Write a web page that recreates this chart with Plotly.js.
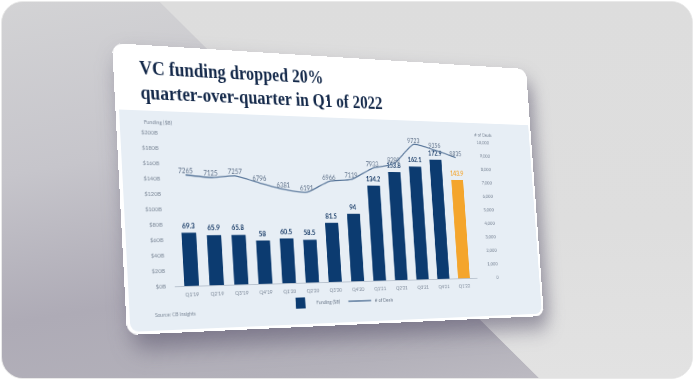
<!DOCTYPE html>
<html>
<head>
<meta charset="utf-8">
<script src="https://cdn.plot.ly/plotly-3.0.1.min.js"></script>
<style>
  html, body { margin:0; padding:0; background:#ffffff; }
  #frame { position:absolute; left:1px; top:1px; width:690px; height:376px; border-radius:22px; overflow:hidden;
           background:#dcdcdc; border:1px solid #e9e9e9; }
  #bgleft { position:absolute; left:0; top:0; width:690px; height:376px;
            clip-path: polygon(0 0, 158px 0, 537px 376px, 0 376px);
            background: linear-gradient(170deg, #d3d3d5 0%, #c6c5cb 35%, #aeabb6 65%, #b3b1ba 85%, #c2c0c7 100%); }
  #bgright { position:absolute; left:0; top:0; width:690px; height:376px;
            clip-path: polygon(158px 0, 690px 0, 690px 376px, 537px 376px);
            background: linear-gradient(180deg, #dddddd 0%, #dedede 60%, #e2e2e2 100%); }
  .sheet { position:absolute; left:0; top:0; width:540px; height:300px; transform-origin:0 0; }
  #shadow { background: rgba(80,74,100,0.55); border-radius:14px; filter: blur(12px); }
  #card { background:#ffffff; border-radius:12px; overflow:hidden; }
  #panel { position:absolute; left:4px; top:69px; width:533px; height:228px; background:#e7eef5; border-radius:0 0 9px 9px; }
  #chart { position:absolute; left:0; top:0; width:540px; height:300px; }
</style>
</head>
<body>
<div id="frame">
  <div id="bgleft"></div>
  <div id="bgright"></div>
</div>
<div id="shadow" class="sheet"></div>
<div id="card" class="sheet">
  <div id="panel"></div>
  <div id="chart"></div>
</div>
<script>
// ---- data ----
const quarters = ["Q1'19","Q2'19","Q3'19","Q4'19","Q1'20","Q2'20","Q3'20","Q4'20","Q1'21","Q2'21","Q3'21","Q4'21","Q1'22"];
const funding = [69.3, 65.9, 65.8, 58, 60.5, 58.5, 81.5, 94, 134.2, 153.8, 162.1, 172.9, 143.9];
const deals = [7265, 7125, 7257, 6796, 6381, 6191, 6966, 7119, 7933, 8280, 9723, 9356, 8835];
const seriesNames = ["Funding ($B)", "# of Deals"];
const titleText = "VC funding dropped 20%<br>quarter-over-quarter in Q1 of 2022";
const sourceText = "Source: CB Insights";

// ---- perspective (card corners on screen) ----
const W = 540, H = 300;
function homography(p0, p1, p2, p3) {
  const [x0,y0]=p0,[x1,y1]=p1,[x2,y2]=p2,[x3,y3]=p3;
  const dx1=x1-x2, dx2=x3-x2, dx3=x0-x1+x2-x3;
  const dy1=y1-y2, dy2=y3-y2, dy3=y0-y1+y2-y3;
  const det=dx1*dy2-dx2*dy1;
  const g=(dx3*dy2-dx2*dy3)/det, h=(dx1*dy3-dx3*dy1)/det;
  const a=x1-x0+g*x1, b=x3-x0+h*x3, c=x0;
  const d=y1-y0+g*y1, e=y3-y0+h*y3, f=y0;
  return `matrix3d(${a/W},${d/W},0,${g/W},${b/H},${e/H},0,${h/H},0,0,1,0,${c},${f},0,1)`;
}
const M = homography([112,43],[526,69],[544,316],[127,335]);
document.getElementById('card').style.transform = M;
document.getElementById('shadow').style.transform = M + ' translate(6px, 14px)';

// ---- chart ----
const barColors = funding.map((v,i)=> i === funding.length-1 ? '#f4a52c' : '#0c3b70');
const barTextColors = funding.map((v,i)=> i === funding.length-1 ? '#f4a52c' : '#173a66');

const traces = [
  {
    type:'bar', name: seriesNames[0], x: quarters, y: funding,
    marker:{color: barColors},
    text: funding.map(String), textposition:'outside', constraintext:'none', cliponaxis:false,
    textfont:{family:'Lato, sans-serif', size:7.5, weight:'bold', color: barTextColors},
    hoverinfo:'skip'
  },
  {
    type:'scatter', mode:'lines+text', name: seriesNames[1], x: quarters, y: deals, yaxis:'y2',
    line:{color:'#567498', width:1.3, shape:'spline', smoothing:0.5},
    text: deals.map(String), textposition:'top center', cliponaxis:false,
    textfont:{family:'Lato, sans-serif', size:7.3, color:'#5f7189'},
    hoverinfo:'skip'
  }
];

const plotW = 424, plotL = 56;
const layout = {
  width: W, height: H,
  margin:{l:plotL, r:W-plotL-plotW, t:92, b:48, pad:0},
  paper_bgcolor:'rgba(0,0,0,0)', plot_bgcolor:'rgba(0,0,0,0)',
  title:{text:'<b>'+titleText+'</b>', x:29/W, xanchor:'left', xref:'container', y:1-31/H, yanchor:'top', yref:'container',
         font:{family:'Liberation Serif, DejaVu Serif, serif', size:20, color:'#14294a'}},
  bargap:0.42,
  showlegend:true,
  legend:{orientation:'h', x:0.476, xanchor:'center', y:-0.1375, yanchor:'middle', bgcolor:'rgba(0,0,0,0)',
          font:{family:'Lato, sans-serif', size:5.5, color:'#6e7b8c'}, itemwidth:30, traceorder:'normal'},
  xaxis:{domain:[0, 389/plotW], type:'category', showgrid:false, zeroline:false, showline:true, linecolor:'#b8c2ce', linewidth:1,
         ticks:'', tickfont:{family:'Lato, sans-serif', size:5.8, color:'#7c8898'}, ticklabelstandoff:3, fixedrange:true},
  yaxis:{range:[0,200], dtick:20, tickprefix:'$', ticksuffix:'B', showgrid:false, zeroline:false, showline:false, ticks:'',
         tickfont:{family:'Lato, sans-serif', size:6.3, color:'#7c8898'}, ticklabelstandoff:9, fixedrange:true},
  yaxis2:{range:[0,10000], dtick:1000, tickformat:',d', overlaying:'y', side:'left', anchor:'free', position:(478-plotL)/plotW,
          showgrid:false, zeroline:false, showline:false, ticks:'',
          tickfont:{family:'Lato, sans-serif', size:6.0, color:'#7c8898'}, ticklabelstandoff:2, fixedrange:true},
  annotations:[
    {text:seriesNames[0], xref:'paper', yref:'paper', x:(29-plotL)/plotW, y:(252-81)/160, xanchor:'left', yanchor:'middle', showarrow:false,
     font:{family:'Lato, sans-serif', size:5.8, color:'#7c8898'}},
    {text:seriesNames[1], xref:'paper', yref:'paper', x:(453-plotL)/plotW, y:(252-82)/160, xanchor:'left', yanchor:'middle', showarrow:false,
     font:{family:'Lato, sans-serif', size:5.8, color:'#7c8898'}},
    {text:sourceText, xref:'paper', yref:'paper', x:(30-plotL)/plotW, y:(252-281)/160, xanchor:'left', yanchor:'middle', showarrow:false,
     font:{family:'Lato, sans-serif', size:5.5, color:'#7c8898'}}
  ]
};
Plotly.newPlot('chart', traces, layout, {staticPlot:true, displayModeBar:false});
</script>
</body>
</html>
